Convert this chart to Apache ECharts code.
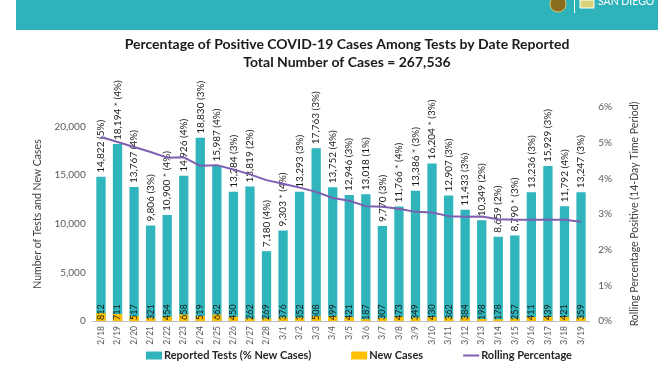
<!DOCTYPE html>
<html>
<head>
<meta charset="utf-8">
<script src="https://cdn.jsdelivr.net/npm/echarts@6/dist/echarts.min.js"></script>
<style>html,body{margin:0;padding:0;background:#fff;}#c{width:672px;height:372px;}</style>
</head>
<body>
<div id="c"></div>
<script>
const dates = ['2/18','2/19','2/20','2/21','2/22','2/23','2/24','2/25','2/26','2/27','2/28','3/1','3/2','3/3','3/4','3/5','3/6','3/7','3/8','3/9','3/10','3/11','3/12','3/13','3/14','3/15','3/16','3/17','3/18','3/19'];
const tests = [14822,18194,13767,9806,10900,14926,18830,15987,13284,13819,7180,9303,13293,17763,13752,12946,13018,9770,11766,13386,16204,12907,11433,10349,8659,8790,13236,15929,11792,13247];
const newCases = [812,711,517,321,454,658,519,662,450,262,269,376,352,508,499,421,187,307,473,349,430,362,384,198,178,257,411,439,421,359];
const pctNew = [5,4,4,3,4,4,3,4,3,2,4,4,3,3,4,3,1,3,4,3,3,3,3,2,2,3,3,3,4,3];
const starred = [0,1,0,0,1,0,0,0,0,0,0,1,0,0,0,0,0,0,1,1,1,0,0,0,0,1,0,0,0,0];
const rolling = [5.16,5.02,4.88,4.74,4.58,4.59,4.35,4.37,4.25,4.11,3.95,3.85,3.74,3.62,3.45,3.37,3.22,3.20,3.15,3.06,3.04,2.94,2.92,2.93,2.85,2.84,2.84,2.84,2.84,2.78];
const leftTicks = [0,5000,10000,15000,20000];
const rightTicks = [0,1,2,3,4,5,6];

const FONT = 'Lato, "Liberation Sans", sans-serif';
const fmt = n => n.toLocaleString('en-US');

const chart = echarts.init(document.getElementById('c'), null, {renderer:'canvas'});
chart.setOption({
  animation:false,
  textStyle:{fontFamily:FONT},
  graphic:[
    {type:'rect', shape:{x:16,y:0,width:642,height:30}, style:{fill:'#2fb3bb'}},
    {type:'circle', shape:{cx:558,cy:4,r:8}, style:{fill:'#8a6d1e', stroke:'#e0c060', lineWidth:1}},
    {type:'rect', shape:{x:574,y:0,width:1,height:13}, style:{fill:'#ffffff'}},
    {type:'rect', shape:{x:580,y:0,width:14,height:8}, style:{fill:'#d9d27a', stroke:'#ffffff', lineWidth:1}},
    {type:'text', x:598, y:-4, style:{text:'SAN DIEGO', fill:'#ffffff', font:'10.5px '+FONT}},
    {type:'text', x:347, y:44, style:{text:'Percentage of Positive COVID-19 Cases Among Tests by Date Reported', fill:'#1a1a1a', font:'bold 14px '+FONT, align:'center', verticalAlign:'middle'}},
    {type:'text', x:347, y:62, style:{text:'Total Number of Cases = 267,536', fill:'#1a1a1a', font:'bold 14px '+FONT, align:'center', verticalAlign:'middle'}}
  ],
  legend:{
    left:141, top:345, itemWidth:16, itemHeight:8, itemGap:40,
    textStyle:{fontFamily:FONT, fontSize:11, fontWeight:'bold', color:'#262626', padding:[0,0,0,-3]},
    data:[
      {name:'Reported Tests (% New Cases)', icon:'rect'},
      {name:'New Cases', icon:'rect'},
      {name:'Rolling Percentage', icon:'path://M0,0 L20,0 L20,2.5 L0,2.5 Z'}
    ]
  },
  grid:{left:92.7, right:82.7, top:107, bottom:51, containLabel:false},
  xAxis:{
    type:'category', data:dates,
    axisLine:{lineStyle:{color:'#bfbfbf'}},
    axisTick:{show:false},
    axisLabel:{rotate:90, fontSize:8.5, color:'#595959', margin:5, interval:0}
  },
  yAxis:[
    {type:'value', min:0, max:22000, interval:5000,
     name:'Number of Tests and New Cases', nameLocation:'middle', nameGap:42, nameRotate:90,
     nameTextStyle:{fontSize:10.5, color:'#404040'},
     splitLine:{show:false}, axisLine:{show:false}, axisTick:{show:false},
     axisLabel:{fontSize:10, color:'#595959', margin:7, showMaxLabel:false,
       formatter:v => leftTicks.includes(v) ? fmt(v) : ''}},
    {type:'value', min:0, max:6, interval:1, position:'right',
     name:'Rolling Percentage Positive (14-Day Time Period)', nameLocation:'middle', nameGap:40, nameRotate:90,
     nameTextStyle:{fontSize:10.5, color:'#404040'},
     splitLine:{show:false}, axisLine:{show:false}, axisTick:{show:false},
     axisLabel:{fontSize:10, color:'#595959', margin:9,
       formatter:v => rightTicks.includes(v) ? v + '%' : ''}}
  ],
  series:[
    {name:'Reported Tests (% New Cases)', type:'bar', yAxisIndex:0, barWidth:9.3, barGap:'-100%',
     itemStyle:{color:'#30b5bc'},
     data:tests,
     label:{show:true, position:'top', rotate:90, align:'left', verticalAlign:'middle', distance:4,
       fontSize:10, color:'#1a1a1a', fontFamily:FONT,
       formatter:p => fmt(tests[p.dataIndex]) + (starred[p.dataIndex] ? ' * ' : ' ') + '(' + pctNew[p.dataIndex] + '%)'}},
    {name:'New Cases', type:'bar', yAxisIndex:0, barWidth:9.3, barGap:'-100%',
     itemStyle:{color:'#ffc000'},
     data:newCases,
     label:{show:true, position:'insideBottom', rotate:90, align:'left', verticalAlign:'middle', distance:1,
       fontSize:9, color:'#1a1a1a', fontFamily:FONT, formatter:p => String(newCases[p.dataIndex])}},
    {name:'Rolling Percentage', type:'line', yAxisIndex:1, data:rolling, symbol:'none',
     lineStyle:{color:'#7f5fb0', width:2}, itemStyle:{color:'#7f5fb0'}, z:5}
  ]
});
</script>
</body>
</html>
